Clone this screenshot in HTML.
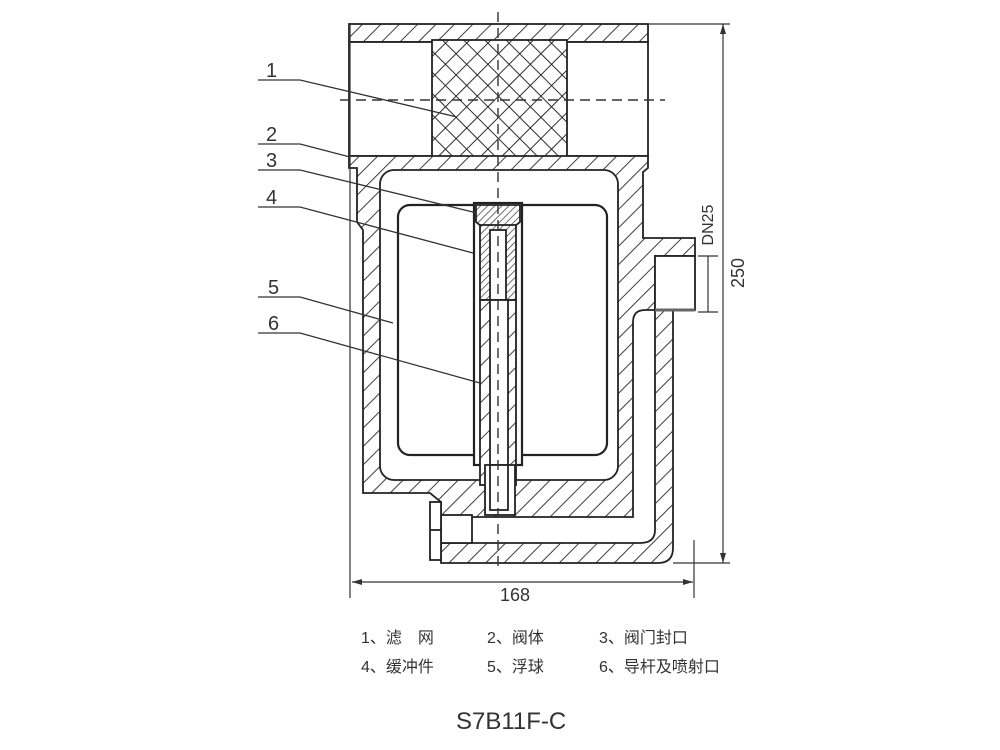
<!DOCTYPE html>
<html><head><meta charset="utf-8"><style>
html,body{margin:0;padding:0;background:#fff;}
svg{display:block;}
text{font-family:"Liberation Sans","Noto Sans CJK SC",sans-serif;fill:#333;}
</style></head><body>
<svg width="1000" height="750" viewBox="0 0 1000 750" xmlns="http://www.w3.org/2000/svg">
<defs>
<pattern id="h" width="13" height="13" patternUnits="userSpaceOnUse" patternTransform="rotate(45)">
<rect width="13" height="13" fill="#fff"/><line x1="0" y1="0" x2="0" y2="13" stroke="#333" stroke-width="1.9"/></pattern>
<pattern id="hd" width="5" height="5" patternUnits="userSpaceOnUse" patternTransform="rotate(45)">
<rect width="5" height="5" fill="#fff"/><line x1="0" y1="0" x2="0" y2="5" stroke="#333" stroke-width="1.4"/></pattern>
<pattern id="x" width="15" height="15" patternUnits="userSpaceOnUse" patternTransform="rotate(45)">
<rect width="15" height="15" fill="#fff"/><line x1="0" y1="0" x2="0" y2="15" stroke="#222" stroke-width="1.9"/><line x1="0" y1="0" x2="15" y2="0" stroke="#222" stroke-width="1.9"/></pattern>
</defs>
<g stroke="#222" stroke-width="1.8" fill="none">
<rect x="349" y="24" width="299" height="18" fill="url(#h)"/>
<rect x="349" y="42" width="299" height="114" fill="#fff"/>
<rect x="432" y="40" width="135" height="117" fill="url(#x)"/>
<path d="M349,156 L648,156 L648,168 L643,172 L643,238 L695,238 L695,256 L655,256 L655,310 L673,310 L673,548 Q673,563 658,563 L441,563 L441,502 L430,493 L363,493 L363,230 L357,222 L357,168 L349,168 Z" fill="url(#h)"/>
<rect x="380" y="170" width="238" height="310" rx="14" fill="#fff"/>
<path d="M633,322 Q633,310 645,310 L655,310 L655,530 Q655,543 640,543 L441,543 L441,517 L633,517 Z" fill="#fff"/>
<rect x="655" y="256" width="40" height="54" fill="#fff"/>
<line x1="655" y1="310" x2="695" y2="310" stroke="#666" stroke-width="3"/>
<rect x="441" y="515" width="31" height="28" fill="#fff"/>
<rect x="430" y="502" width="11" height="58" fill="#fff"/>
<line x1="430" y1="530" x2="441" y2="530"/>
<rect x="398" y="205" width="209" height="250" rx="12" fill="#fff" stroke-width="2.2"/>
<rect x="474" y="203" width="48" height="262" fill="#fff" stroke-width="2.2"/>
<path d="M476,205 L520,205 L520,222 L498,240 L476,222 Z" fill="url(#hd)"/>
<rect x="480" y="225" width="36" height="75" fill="url(#hd)"/>
<rect x="490" y="230" width="16" height="70" fill="#fff"/>
<rect x="480" y="300" width="36" height="185" fill="url(#h)"/>
<rect x="490" y="300" width="18" height="210" fill="#fff"/>
<rect x="485" y="465" width="30" height="50" fill="#fff"/>
<rect x="490" y="465" width="18" height="45" fill="#fff"/>
</g>
<g stroke="#333" stroke-width="1.4" stroke-dasharray="10,6" fill="none">
<line x1="498" y1="12" x2="498" y2="570"/>
<line x1="340" y1="100" x2="665" y2="100"/>
</g>
<g stroke="#333" stroke-width="1.2" fill="none">
<line x1="350" y1="24" x2="350" y2="598"/>
<line x1="694" y1="540" x2="694" y2="598"/>
<line x1="352" y1="582" x2="693" y2="582"/>
<line x1="648" y1="24" x2="730" y2="24"/>
<line x1="673" y1="563" x2="730" y2="563"/>
<line x1="723" y1="24" x2="723" y2="563"/>
<line x1="698" y1="256" x2="718" y2="256"/>
<line x1="698" y1="312" x2="718" y2="312"/>
<line x1="708" y1="256" x2="708" y2="312"/>
</g>
<g fill="#333">
<path d="M352,582 l10,-3 v6 z"/><path d="M693,582 l-10,-3 v6 z"/>
<path d="M723,24 l-3,10 h6 z"/><path d="M723,563 l-3,-10 h6 z"/>
</g>
<text x="515" y="601" font-size="18" text-anchor="middle">168</text>
<text transform="translate(744,273) rotate(-90)" font-size="18" text-anchor="middle">250</text>
<text transform="translate(713,225) rotate(-90)" font-size="16" text-anchor="middle">DN25</text>
<g stroke="#333" stroke-width="1.3" fill="none">
<path d="M258,80 L300,80 L457,117"/>
<path d="M258,144 L300,144 L350,157"/>
<path d="M258,170 L300,170 L477,213"/>
<path d="M258,207 L300,207 L473,253"/>
<path d="M258,297 L300,297 L393,323"/>
<path d="M258,333 L300,333 L480,383"/>
</g>
<g font-size="20">
<text x="266" y="77">1</text>
<text x="266" y="141">2</text>
<text x="266" y="167">3</text>
<text x="266" y="204">4</text>
<text x="268" y="294">5</text>
<text x="268" y="330">6</text>
</g>
<g font-size="16">
<text x="361" y="643">1、滤　网</text>
<text x="487" y="643">2、阀体</text>
<text x="599" y="643">3、阀门封口</text>
<text x="361" y="672">4、缓冲件</text>
<text x="487" y="672">5、浮球</text>
<text x="599" y="672">6、导杆及喷射口</text>
</g>
<text x="456" y="729" font-size="24">S7B11F-C</text>
</svg>
</body></html>
